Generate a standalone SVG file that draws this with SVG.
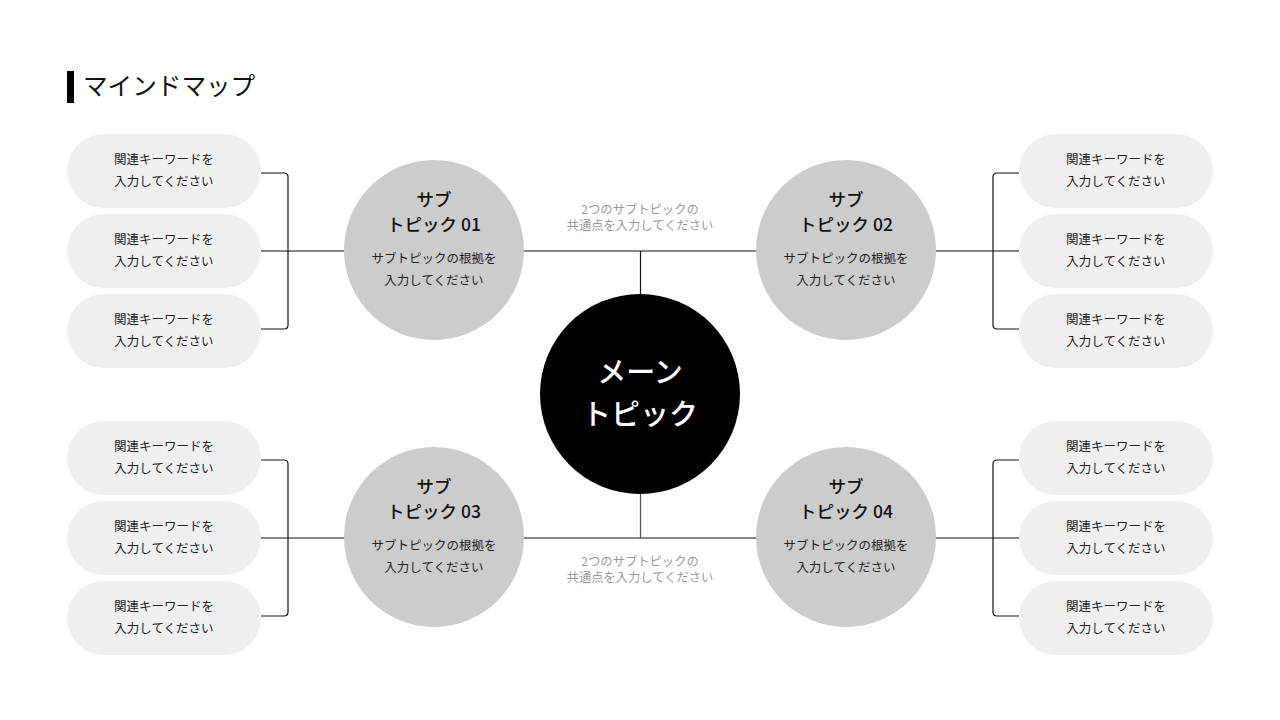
<svg xmlns="http://www.w3.org/2000/svg" width="1280" height="720" viewBox="0 0 1280 720">
<style>
text{font-family:"Noto Sans CJK JP","Noto Sans",sans-serif;text-anchor:middle}
.pill{fill:#efefef}
.pt{font-size:12.5px;fill:#222}
.sub{fill:#cccccc}
.st{font-size:17.5px;fill:#111;font-weight:500}
.sd{font-size:12.5px;fill:#222}
.ct{font-size:12.3px;fill:#999}
.ln{fill:none;stroke:#111;stroke-width:1.2}
.mt{font-size:29px;fill:#fff;font-weight:500}
</style>
<rect width="1280" height="720" fill="#fff"/>
<g id="title">
<rect x="67" y="71" width="7" height="32" fill="#000"/>
<text x="83" y="95" style="text-anchor:start;font-size:24.6px;fill:#111">マインドマップ</text>
</g>
<g id="connectors">
<path class="ln" d="M261 173 H284 Q288 173 288 177 V325 Q288 329 284 329 H261 M261 251 H345"/>
<path class="ln" d="M261 460 H284 Q288 460 288 464 V612 Q288 616 284 616 H261 M261 538 H345"/>
<path class="ln" d="M1019 173 H997 Q993 173 993 177 V325 Q993 329 997 329 H1019 M1019 251 H935"/>
<path class="ln" d="M1019 460 H997 Q993 460 993 464 V612 Q993 616 997 616 H1019 M1019 538 H935"/>
<path class="ln" d="M524 251 H756 M640.5 251 V295"/>
<path class="ln" d="M524 538 H756" />
<path class="ln" style="stroke:#555" d="M640.5 493 V538"/>
</g>
<g id="kw-l1"><rect class="pill" x="67" y="134" width="194" height="74" rx="37"/><text class="pt" x="164" y="164">関連キーワードを</text><text class="pt" x="164" y="186">入力してください</text></g>
<g id="kw-l2"><rect class="pill" x="67" y="214" width="194" height="74" rx="37"/><text class="pt" x="164" y="244">関連キーワードを</text><text class="pt" x="164" y="266">入力してください</text></g>
<g id="kw-l3"><rect class="pill" x="67" y="294" width="194" height="74" rx="37"/><text class="pt" x="164" y="324">関連キーワードを</text><text class="pt" x="164" y="346">入力してください</text></g>
<g id="kw-l4"><rect class="pill" x="67" y="421" width="194" height="74" rx="37"/><text class="pt" x="164" y="451">関連キーワードを</text><text class="pt" x="164" y="473">入力してください</text></g>
<g id="kw-l5"><rect class="pill" x="67" y="501" width="194" height="74" rx="37"/><text class="pt" x="164" y="531">関連キーワードを</text><text class="pt" x="164" y="553">入力してください</text></g>
<g id="kw-l6"><rect class="pill" x="67" y="581" width="194" height="74" rx="37"/><text class="pt" x="164" y="611">関連キーワードを</text><text class="pt" x="164" y="633">入力してください</text></g>
<g id="kw-r1"><rect class="pill" x="1019" y="134" width="194" height="74" rx="37"/><text class="pt" x="1116" y="164">関連キーワードを</text><text class="pt" x="1116" y="186">入力してください</text></g>
<g id="kw-r2"><rect class="pill" x="1019" y="214" width="194" height="74" rx="37"/><text class="pt" x="1116" y="244">関連キーワードを</text><text class="pt" x="1116" y="266">入力してください</text></g>
<g id="kw-r3"><rect class="pill" x="1019" y="294" width="194" height="74" rx="37"/><text class="pt" x="1116" y="324">関連キーワードを</text><text class="pt" x="1116" y="346">入力してください</text></g>
<g id="kw-r4"><rect class="pill" x="1019" y="421" width="194" height="74" rx="37"/><text class="pt" x="1116" y="451">関連キーワードを</text><text class="pt" x="1116" y="473">入力してください</text></g>
<g id="kw-r5"><rect class="pill" x="1019" y="501" width="194" height="74" rx="37"/><text class="pt" x="1116" y="531">関連キーワードを</text><text class="pt" x="1116" y="553">入力してください</text></g>
<g id="kw-r6"><rect class="pill" x="1019" y="581" width="194" height="74" rx="37"/><text class="pt" x="1116" y="611">関連キーワードを</text><text class="pt" x="1116" y="633">入力してください</text></g>
<g id="sub01"><circle class="sub" cx="434" cy="250" r="90"/><text class="st" x="434" y="206">サブ</text><text class="st" x="434" y="231">トピック 01</text><text class="sd" x="434" y="263">サブトピックの根拠を</text><text class="sd" x="434" y="285">入力してください</text></g>
<g id="sub02"><circle class="sub" cx="846" cy="250" r="90"/><text class="st" x="846" y="206">サブ</text><text class="st" x="846" y="231">トピック 02</text><text class="sd" x="846" y="263">サブトピックの根拠を</text><text class="sd" x="846" y="285">入力してください</text></g>
<g id="sub03"><circle class="sub" cx="434" cy="537" r="90"/><text class="st" x="434" y="493">サブ</text><text class="st" x="434" y="518">トピック 03</text><text class="sd" x="434" y="550">サブトピックの根拠を</text><text class="sd" x="434" y="572">入力してください</text></g>
<g id="sub04"><circle class="sub" cx="846" cy="537" r="90"/><text class="st" x="846" y="493">サブ</text><text class="st" x="846" y="518">トピック 04</text><text class="sd" x="846" y="550">サブトピックの根拠を</text><text class="sd" x="846" y="572">入力してください</text></g>
<g id="common-top"><text class="ct" x="640" y="214">2つのサブトピックの</text><text class="ct" x="640" y="230">共通点を入力してください</text></g>
<g id="common-bottom"><text class="ct" x="640" y="566">2つのサブトピックの</text><text class="ct" x="640" y="582">共通点を入力してください</text></g>
<g id="main"><circle cx="640" cy="394" r="100" fill="#000"/><text class="mt" x="640" y="383">メーン</text><text class="mt" x="640" y="425">トピック</text></g>
</svg>
